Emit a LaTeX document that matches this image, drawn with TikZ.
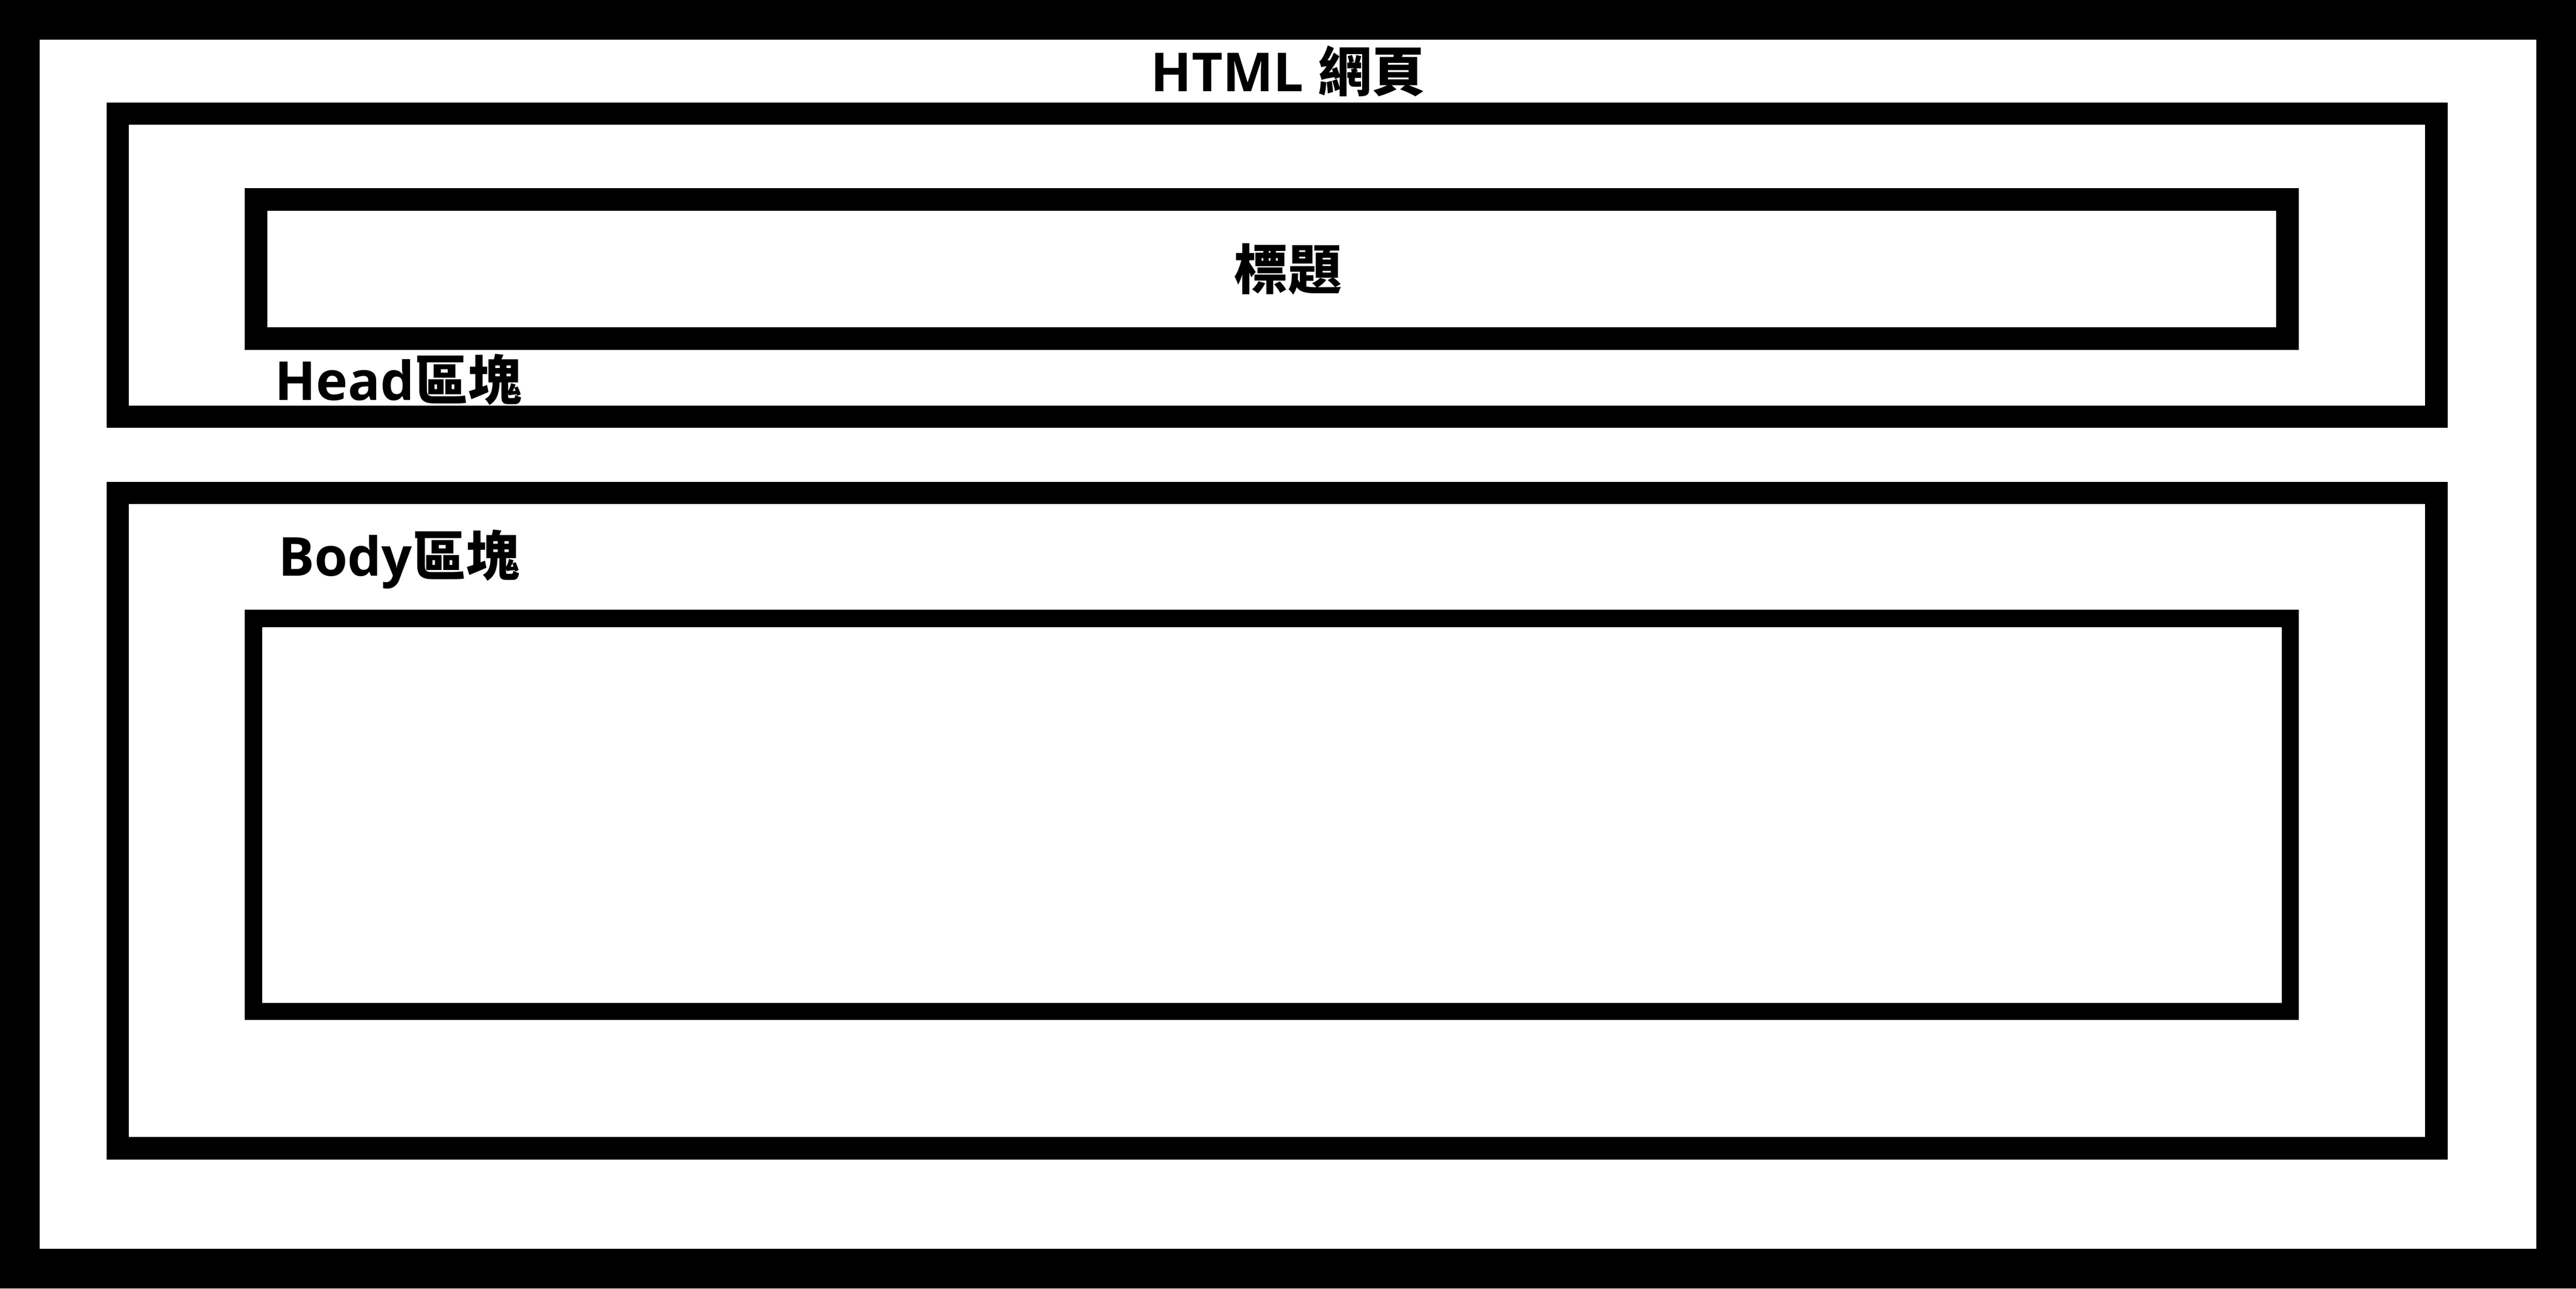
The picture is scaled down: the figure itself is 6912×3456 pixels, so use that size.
\documentclass[tikz,border=0pt]{standalone}
\usepackage{fontspec}
\setmainfont{Open Sans}
\newfontfamily\cjk{Noto Sans CJK TC}

\begin{document}
\begin{tikzpicture}[x=0.01cm,y=-0.01cm,
		block/.style={draw,line width=0.6cm},
		innerblock/.style={draw,line width=0.46cm},
		lbl/.style={inner sep=0pt,font=\fontsize{41}{49}\selectfont\bfseries}]

  % page frame
  \fill[black] (0,0) rectangle (6912,3456);
  \fill[white] (107,107) rectangle (6805,3349);
  \useasboundingbox (0,0) rectangle (6912,3456);

  % head and body blocks
  \draw[block] (316,305) rectangle (6537,1118);
  \draw[block] (687,535) rectangle (6138,908);
  \draw[block] (316,1322) rectangle (6537,3080);
  \draw[innerblock] (680,1659) rectangle (6145,2713);

  \node[lbl,anchor=base] (page) at (3456,245) {HTML {\cjk 網頁}};
  \node[lbl] (title) at (3456,722) {\cjk 標題};
  \node[lbl,anchor=base west] (headlbl) at (737,1073) {Head{\cjk 區塊}};
  \node[lbl,anchor=base west] (bodylbl) at (746,1545) {Body{\cjk 區塊}};

\end{tikzpicture}
\end{document}
